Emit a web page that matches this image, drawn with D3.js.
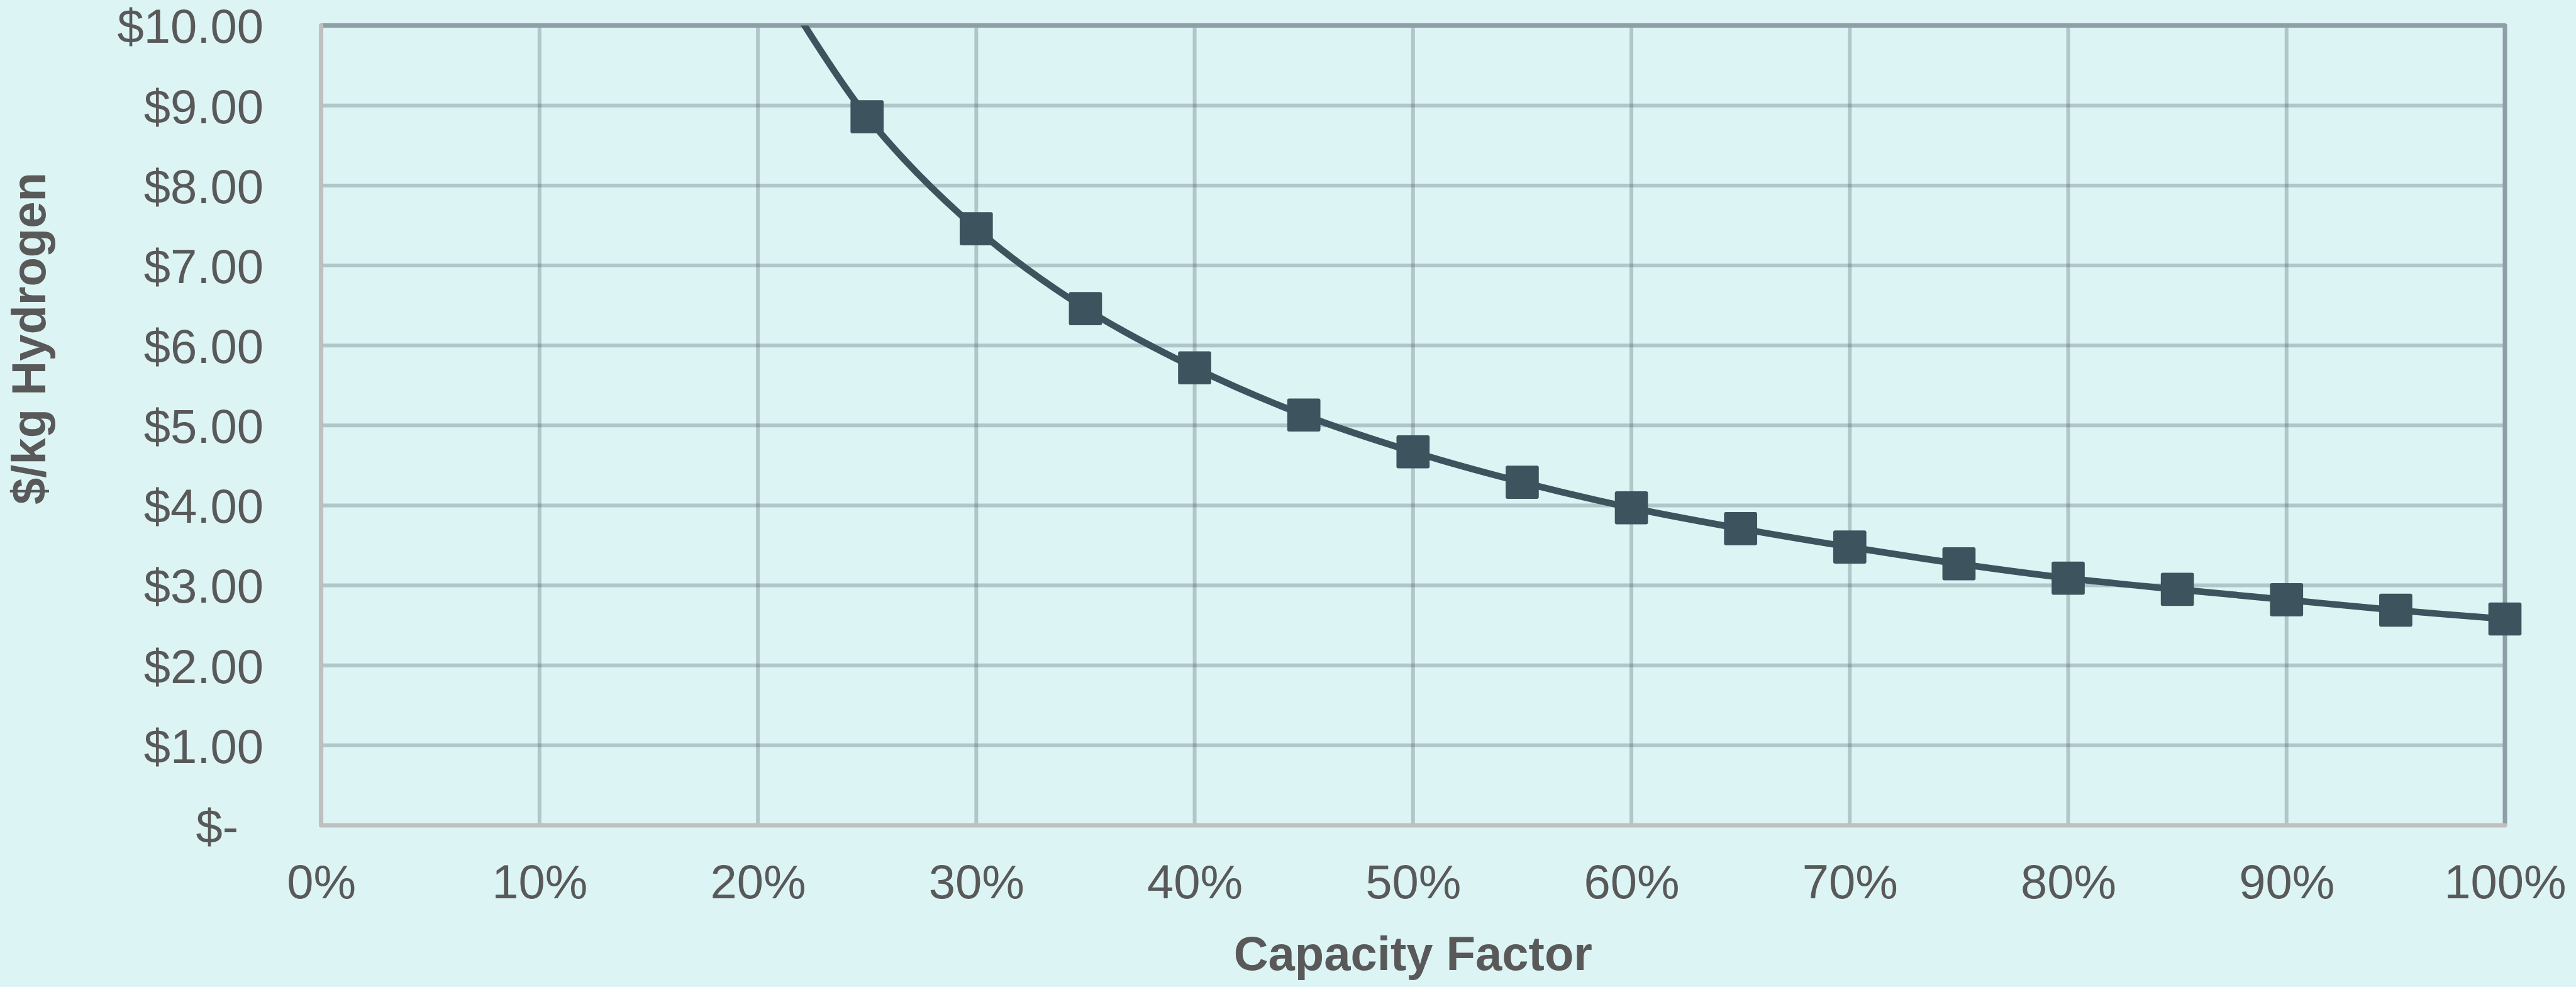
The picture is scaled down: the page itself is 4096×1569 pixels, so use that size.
<!DOCTYPE html>
<html>
<head>
<meta charset="utf-8">
<script src="https://cdn.jsdelivr.net/npm/d3@7"></script>
<style>
  html, body { margin: 0; padding: 0; background: #dcf5f4; }
  svg { display: block; }
  text { font-family: "Liberation Sans", Arial, Helvetica, sans-serif; fill: #595959; }
</style>
</head>
<body>
<svg id="chart" width="4096" height="1569"></svg>
<script>
// Hydrogen production cost versus electrolyser capacity factor
const capacityFactors = [0.20, 0.25, 0.30, 0.35, 0.40, 0.45, 0.50, 0.55, 0.60,
                         0.65, 0.70, 0.75, 0.80, 0.85, 0.90, 0.95, 1.00];
const costPerKg = [10.95, 8.86, 7.46, 6.46, 5.72, 5.13, 4.67, 4.29, 3.97,
                   3.71, 3.48, 3.27, 3.09, 2.95, 2.82, 2.69, 2.58];
const xTickValues = [0, 0.1, 0.2, 0.3, 0.4, 0.5, 0.6, 0.7, 0.8, 0.9, 1.0];
const yTickValues = [0, 1, 2, 3, 4, 5, 6, 7, 8, 9, 10];
const xTitle = "Capacity Factor";
const yTitle = "$/kg Hydrogen";

const svg = d3.select("#chart");
const plot = { left: 510.6, right: 3983, top: 40.6, bottom: 1312 };

const x = d3.scaleLinear().domain([0, 1]).range([plot.left, plot.right]);
const y = d3.scaleLinear().domain([0, 10]).range([plot.bottom, plot.top]);

const gridColor = "rgba(67,75,92,0.28)";
const borderColor = "#8e9fa8";
const axisColor = "#bfbfbf";
const seriesColor = "#3d545e";
const fontSize = 76;

// Gridlines
const grid = svg.append("g");
grid.selectAll("line.h")
  .data(yTickValues.filter(v => v > 0 && v < 10))
  .join("line")
  .attr("x1", plot.left).attr("x2", plot.right)
  .attr("y1", d => y(d)).attr("y2", d => y(d))
  .attr("stroke", gridColor).attr("stroke-width", 6);
grid.selectAll("line.v")
  .data(xTickValues.filter(v => v > 0 && v < 1))
  .join("line")
  .attr("x1", d => x(d)).attr("x2", d => x(d))
  .attr("y1", plot.top).attr("y2", plot.bottom)
  .attr("stroke", gridColor).attr("stroke-width", 6);

// Top and right edges of the plot area
grid.append("path")
  .attr("d", `M${x(0)},${y(10)}H${x(1)}V${y(0)}`)
  .attr("fill", "none")
  .attr("stroke", borderColor)
  .attr("stroke-width", 7)
  .attr("stroke-linejoin", "round");

// Axis lines
svg.append("path")
  .attr("d", `M${x(0)},${y(10)}V${y(0)}H${x(1)}`)
  .attr("fill", "none")
  .attr("stroke", axisColor)
  .attr("stroke-width", 7)
  .attr("stroke-linejoin", "round")
  .attr("stroke-linecap", "round");

// Y axis labels
const yAxis = d3.axisLeft(y)
  .tickValues(yTickValues)
  .tickSize(0)
  .tickPadding(91.6)
  .tickFormat(v => v === 0 ? "$-" : "$" + v.toFixed(2));
const gy = svg.append("g").attr("transform", `translate(${plot.left},0)`).call(yAxis);
gy.select(".domain").remove();
gy.selectAll("text")
  .attr("font-size", fontSize)
  .attr("dy", "0.36em")
  .style("fill", "#595959");
gy.selectAll(".tick").filter(d => d === 0).select("text").attr("dx", -40);

// X axis labels
const xAxis = d3.axisBottom(x)
  .tickValues(xTickValues)
  .tickSize(0)
  .tickFormat(d3.format(".0%"));
const gx = svg.append("g").attr("transform", `translate(0,${plot.bottom})`).call(xAxis);
gx.select(".domain").remove();
gx.selectAll("text")
  .attr("font-size", fontSize)
  .attr("y", 116)
  .attr("dy", "0")
  .style("fill", "#595959");

// Axis titles
svg.append("text")
  .attr("x", (plot.left + plot.right) / 2)
  .attr("y", 1542)
  .attr("text-anchor", "middle")
  .attr("font-size", fontSize)
  .attr("font-weight", "bold")
  .text(xTitle);

svg.append("text")
  .attr("transform", "translate(71.7,538) rotate(-90)")
  .attr("text-anchor", "middle")
  .attr("font-size", fontSize)
  .attr("font-weight", "bold")
  .text(yTitle);

// Series, clipped to the plot area
svg.append("clipPath").attr("id", "plot-clip")
  .append("rect")
  .attr("x", plot.left).attr("y", plot.top)
  .attr("width", plot.right - plot.left + 40)
  .attr("height", plot.bottom - plot.top);

const points = capacityFactors.map((cf, i) => ({ cf, cost: costPerKg[i] }));
const series = svg.append("g").attr("clip-path", "url(#plot-clip)");

const line = d3.line()
  .x(d => x(d.cf))
  .y(d => y(d.cost))
  .curve(d3.curveCatmullRom.alpha(0.5));

series.append("path")
  .datum(points)
  .attr("d", line)
  .attr("fill", "none")
  .attr("stroke", seriesColor)
  .attr("stroke-width", 10.5)
  .attr("stroke-linejoin", "round");

const markerSize = 52.7;
series.selectAll("rect.marker")
  .data(points.filter(p => p.cost <= 10))
  .join("rect")
  .attr("class", "marker")
  .attr("x", d => x(d.cf) - markerSize / 2)
  .attr("y", d => y(d.cost) - markerSize / 2)
  .attr("width", markerSize)
  .attr("height", markerSize)
  .attr("rx", 3)
  .attr("fill", seriesColor);
</script>
</body>
</html>
